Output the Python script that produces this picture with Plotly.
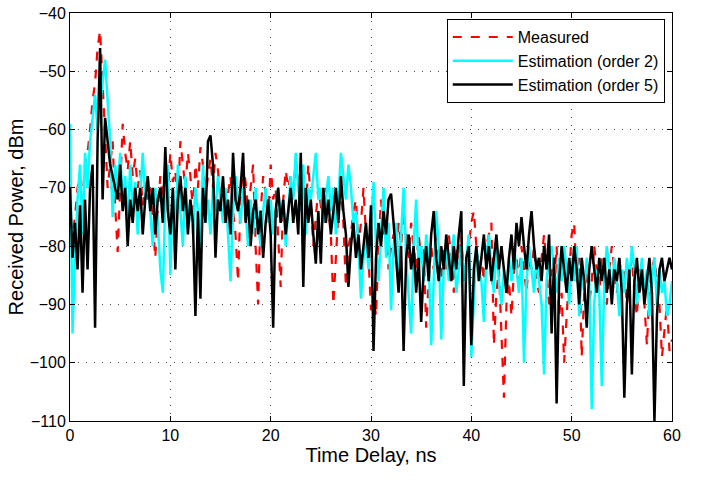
import numpy as np
import plotly.graph_objects as go

t_step = 0.25
time_ns = [round(i * t_step, 2) for i in range(241)]

measured = [
    -80, -78, -75, -70,  -68, -72, -66, -64,  -60, -55, -52, -46,  -43, -52, -62, -70,
    -66, -62, -73, -81,  -70, -59, -64, -67,  -62, -68, -65, -70,  -67, -73, -69, -72,
    -70, -76, -82, -74,  -68, -72, -66, -71,  -64, -69, -67, -73,  -62, -66, -70, -64,
    -68, -74, -66, -70,  -63, -66, -72, -68,  -65, -70, -64, -67,  -72, -69, -75, -71,
    -68, -74, -78, -86,  -72, -66, -69, -74,  -70, -66, -80, -90,  -74, -68, -71, -76,
    -66, -72, -70, -78,  -87, -72, -67, -70,  -68, -72, -65, -69,  -71, -68, -74, -66,
    -72, -80, -75, -70,  -73, -76, -70, -74,  -78, -90, -82, -74,  -70, -76, -87, -80,
    -78, -74, -72, -80,  -76, -70, -78, -82,  -91, -88, -92, -80,  -72, -78, -76, -84,
    -80, -78, -82, -76,  -80, -74, -78, -82,  -76, -80, -84, -78,  -82, -80, -94, -86,
    -80, -84, -78, -82,  -86, -80, -84, -78,  -82, -88, -80, -84,  -78, -86, -82, -80,
    -76, -74, -80, -84,  -82, -86, -80, -78,  -76, -97, -88, -84,  -96, -106, -90, -86,
    -92, -84, -82, -86,  -80, -84, -88, -82,  -84, -80, -86, -88,  -82, -78, -84, -90,
    -84, -86, -80, -92,  -88, -100, -92, -84, -78, -76, -86, -82,  -99, -88, -84, -90,
    -86, -80, -84, -88,  -82, -86, -90, -84,  -80, -84, -88, -82,  -86, -84, -90, -86,
    -82, -88, -92, -84,  -86, -90, -97, -88,  -84, -82, -86, -90,  -99, -94, -90, -98,
    -96,
]

estimation_order2 = [
    -59, -95, -82, -72,  -66, -78, -64, -70,  -62, -58, -54, -60,  -56, -52, -48, -55,
    -62, -75, -66, -70,  -64, -72, -68, -76,  -66, -74, -69, -78,  -70, -64, -72, -68,
    -74, -80, -70, -76,  -84, -88, -72, -66,  -85, -70, -78, -66,  -74, -80, -68, -76,
    -72, -78, -70, -74,  -80, -66, -76, -72,  -78, -70, -74, -68,  -72, -76, -70, -78,
    -86, -74, -68, -72,  -76, -70, -74, -80,  -72, -78, -70, -76,  -80, -74, -70, -76,
    -72, -78, -74, -70,  -76, -72, -80, -74,  -68, -72, -64, -70,  -74, -66, -78, -70,
    -72, -68, -64, -72,  -70, -76, -72, -68,  -74, -70, -78, -72,  -64, -68, -72, -66,
    -70, -76, -74, -80,  -89, -82, -78, -84,  -76, -69, -80, -86,  -78, -70, -82, -76,
    -91, -80, -76, -84,  -78, -70, -82, -88,  -95, -80, -72, -84,  -80, -86, -78, -82,
    -97, -86, -74, -80,  -96, -84, -80, -86,  -82, -78, -88, -84,  -80, -86, -82, -78,
    -99, -88, -80, -84,  -86, -93, -82, -78,  -84, -88, -80, -86,  -90, -84, -88, -82,
    -86, -80, -84, -88,  -82, -100, -86, -80, -84, -88, -82, -86,  -90, -102, -86, -82,
    -80, -84, -88, -82,  -86, -80, -84, -90,  -82, -86, -80, -92,  -84, -88, -82, -86,
    -108, -90, -84, -88, -104, -86, -80, -84, -88, -82, -86, -92,  -84, -88, -82, -86,
    -80, -84, -90, -86,  -82, -88, -84, -92,  -86, -82, -90, -84,  -88, -86, -92, -90,
    -86,
]

estimation_order5 = [
    -70, -82, -76, -84,  -73, -88, -72, -84,  -70, -66, -94, -62,  -46, -72, -58, -62,
    -66, -68, -70, -72,  -66, -74, -70, -80,  -72, -76, -70, -74,  -70, -78, -72, -68,
    -74, -70, -78, -72,  -70, -76, -63, -74,  -78, -70, -84, -72,  -68, -74, -70, -78,
    -72, -76, -92, -74,  -89, -70, -76, -62,  -61, -66, -82, -72,  -74, -68, -76, -72,
    -78, -64, -72, -74,  -70, -64, -76, -72,  -80, -74, -72, -78,  -74, -82, -76, -72,
    -78, -94, -74, -70,  -76, -72, -78, -74,  -70, -76, -72, -78,  -64, -87, -70, -76,
    -72, -78, -83, -74,  -83, -70, -76, -72,  -78, -74, -70, -76,  -68, -74, -78, -87,
    -80, -76, -82, -78,  -84, -80, -76, -82,  -73, -98, -82, -76,  -80, -74, -78, -72,
    -71, -76, -82, -88,  -80, -98, -82, -78,  -84, -80, -88, -82,  -93, -84, -80, -86,
    -78, -74, -82, -86,  -80, -84, -78, -82,  -86, -80, -84, -78,  -74, -104, -82, -80,
    -97, -84, -80, -86,  -82, -78, -84, -80,  -86, -82, -78, -84,  -80, -84, -88, -82,
    -78, -84, -76, -80,  -75, -80, -84, -78,  -74, -80, -84, -82,  -86, -80, -84, -78,
    -95, -82, -107, -86, -80, -84, -88, -82,  -86, -80, -84, -90,  -82, -86, -94, -84,
    -80, -84, -88, -82,  -86, -82, -88, -84,  -90, -84, -86, -82,  -88, -106, -90, -84,
    -102, -86, -82, -88, -84, -90, -86, -82,  -88, -110, -92, -84,  -82, -86, -84, -82,
    -84,
]

x_ticks = [0, 10, 20, 30, 40, 50, 60]
y_ticks = [-110, -100, -90, -80, -70, -60, -50, -40]

FONT = "Liberation Sans, Arial, Helvetica"

fig = go.Figure()
fig.add_trace(go.Scatter(x=time_ns, y=measured, mode="lines", name="Measured",
                         line=dict(color="#ff0000", width=2.2, dash="dash")))
fig.add_trace(go.Scatter(x=time_ns, y=estimation_order2, mode="lines", name="Estimation (order 2)",
                         line=dict(color="#00ffff", width=2.5)))
fig.add_trace(go.Scatter(x=time_ns, y=estimation_order5, mode="lines", name="Estimation (order 5)",
                         line=dict(color="#000000", width=2.5)))

axis_common = dict(showline=True, linecolor="black", linewidth=1, mirror="ticks",
                   ticks="inside", ticklen=5, tickcolor="black", automargin=False,
                   showgrid=True, gridcolor="rgba(0,0,0,0.7)", griddash="1px,7px", gridwidth=1,
                   zeroline=False, tickfont=dict(family=FONT, size=16, color="black"))

fig.update_xaxes(range=[0, 60], tickvals=x_ticks,
                 title=dict(text="Time Delay, ns", font=dict(family=FONT, size=20, color="black"),
                            standoff=4),
                 **axis_common)
fig.update_yaxes(range=[-110, -40], tickvals=y_ticks,
                 title=dict(text="Received Power, dBm", font=dict(family=FONT, size=20, color="black"),
                            standoff=0),
                 **axis_common)

fig.update_layout(
    width=709, height=479,
    margin=dict(l=70, r=37, t=13, b=58),
    paper_bgcolor="white", plot_bgcolor="white",
    showlegend=True,
    legend=dict(x=0.988, y=0.985, xanchor="right", yanchor="top",
                bgcolor="white", bordercolor="black", borderwidth=1,
                font=dict(family=FONT, size=16, color="black"),
                tracegroupgap=0, itemwidth=60),
)

fig.write_html("out.html", config={"displayModeBar": False},
               post_script="document.body.style.margin='0px';")
